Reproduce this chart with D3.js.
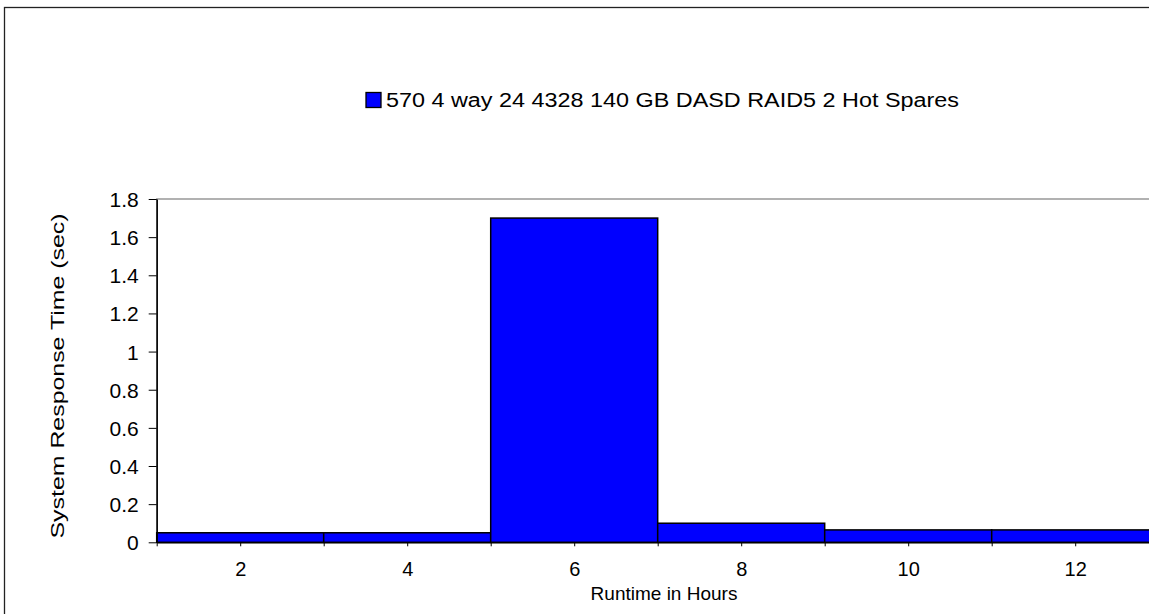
<!DOCTYPE html>
<html>
<head>
<meta charset="utf-8">
<script src="https://cdn.jsdelivr.net/npm/d3@7"></script>
<style>
  html, body { margin: 0; padding: 0; background: #fff; }
  svg { display: block; font-family: "Liberation Sans", Arial, sans-serif; }
</style>
</head>
<body>
<svg id="chart" width="1149" height="614"></svg>
<script>
// ---- data ----
const seriesName = "570 4 way 24 4328 140 GB DASD RAID5 2 Hot Spares";
const hours = [2, 4, 6, 8, 10, 12];
const responseTimes = [0.05, 0.05, 1.70, 0.10, 0.065, 0.065];
const yTicks = [0, 0.2, 0.4, 0.6, 0.8, 1, 1.2, 1.4, 1.6, 1.8];
const yTickLabels = ["0", "0.2", "0.4", "0.6", "0.8", "1", "1.2", "1.4", "1.6", "1.8"];
const xTickLabels = ["2", "4", "6", "8", "10", "12"];
const xTitle = "Runtime in Hours";
const yTitle = "System Response Time (sec)";

// ---- layout ----
const svg = d3.select("#chart");
const plotLeft = 156.7, plotRight = 1158.7, plotTop = 199, plotBottom = 542.3;

const x = d3.scaleLinear().domain([1, 13]).range([plotLeft, plotRight]);
const y = d3.scaleLinear().domain([0, 1.8]).range([plotBottom, plotTop]);

// outer chart frame (partly cropped)
svg.append("rect")
  .attr("x", 4.5).attr("y", 7.5).attr("width", 1200).attr("height", 700)
  .attr("fill", "none").attr("stroke", "#222").attr("stroke-width", 1.3);

// plot area border (top visible)
svg.append("rect")
  .attr("x", plotLeft).attr("y", plotTop).attr("width", plotRight - plotLeft).attr("height", plotBottom - plotTop)
  .attr("fill", "none").attr("stroke", "#888").attr("stroke-width", 1.3);

// bars
const data = hours.map((h, i) => ({ h, v: responseTimes[i] }));
svg.append("g").selectAll("rect").data(data).join("rect")
  .attr("x", d => x(d.h - 1))
  .attr("y", d => y(d.v))
  .attr("width", d => x(d.h + 1) - x(d.h - 1))
  .attr("height", d => y(0) - y(d.v))
  .attr("fill", "#0000ff")
  .attr("stroke", "#000")
  .attr("stroke-width", 1.5);

// y axis
const yAxis = d3.axisLeft(y)
  .tickValues(yTicks)
  .tickFormat((d, i) => yTickLabels[i])
  .tickSize(8)
  .tickSizeOuter(0)
  .tickPadding(10);
const gy = svg.append("g").attr("transform", `translate(${plotLeft},0)`).call(yAxis);
gy.select(".domain").attr("stroke", "#000").attr("stroke-width", 1.5);
gy.selectAll(".tick line").attr("stroke", "#000").attr("stroke-width", 1);
gy.selectAll(".tick text")
  .attr("font-size", 21)
  .attr("font-family", "Liberation Sans, Arial, sans-serif")
  .attr("fill", "#000")
  .attr("dy", "0.36em");

// x axis
const xTickVals = d3.range(1, 14);
const xAxis = d3.axisBottom(x)
  .tickValues(xTickVals)
  .tickFormat(d => {
    const idx = hours.indexOf(d);
    return idx >= 0 ? xTickLabels[idx] : "";
  })
  .tickSize(4)
  .tickSizeOuter(0)
  .tickPadding(16);
const gx = svg.append("g").attr("transform", `translate(0,${plotBottom})`).call(xAxis);
gx.select(".domain").attr("stroke", "#000").attr("stroke-width", 1.5);
gx.selectAll(".tick line").attr("stroke", "#000").attr("stroke-width", 1);
gx.selectAll(".tick text")
  .attr("font-size", 20)
  .attr("font-family", "Liberation Sans, Arial, sans-serif")
  .attr("fill", "#000");

// axis titles
svg.append("text")
  .attr("x", 664).attr("y", 600)
  .attr("text-anchor", "middle")
  .attr("font-size", 19)
  .attr("fill", "#000")
  .text(xTitle);

svg.append("text")
  .attr("transform", `translate(63.5,376) rotate(-90)`)
  .attr("text-anchor", "middle")
  .attr("font-size", 19)
  .attr("textLength", 325)
  .attr("lengthAdjust", "spacingAndGlyphs")
  .attr("fill", "#000")
  .text(yTitle);

// legend
const lg = svg.append("g");
lg.append("rect")
  .attr("x", 366).attr("y", 92.5).attr("width", 15).attr("height", 15)
  .attr("fill", "#0000ff").attr("stroke", "#000").attr("stroke-width", 1.3);
lg.append("text")
  .attr("x", 386).attr("y", 107.3)
  .attr("font-size", 20)
  .attr("textLength", 573)
  .attr("lengthAdjust", "spacingAndGlyphs")
  .attr("fill", "#000")
  .text(seriesName);
</script>
</body>
</html>
